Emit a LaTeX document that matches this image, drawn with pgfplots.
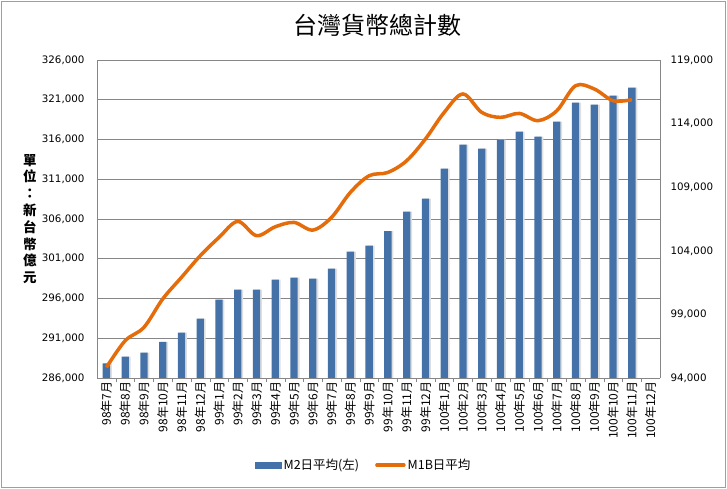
\documentclass[border=0pt]{standalone}
\usepackage{pgfplots}
\pgfplotsset{compat=1.18}
\usepackage{pgfplotstable}
\usepackage{fontspec}
\setmainfont{DejaVu Sans}
\newfontfamily\cjk{Noto Sans CJK TC}
\definecolor{barblue}{RGB}{68,114,168}
\definecolor{lineorange}{RGB}{228,108,10}
\definecolor{gridgray}{RGB}{134,134,134}

% M2 daily average (left axis), 100 million NTD
\pgfplotstableread{
x m2
1 287850
2 288680
3 289180
4 290530
5 291700
6 293460
7 295850
8 297110
9 297110
10 298370
11 298620
12 298490
13 299750
14 301890
15 302640
16 304490
17 306920
18 308550
19 312330
20 315350
21 314840
22 315980
23 316980
24 316350
25 318240
26 320630
27 320380
28 321510
29 322520
}\mtwo

% M1B daily average (right axis)
\pgfplotstableread{
x m1b
1 94830
2 96930
3 97980
4 100210
5 101910
6 103610
7 105050
8 106310
9 105190
10 105890
11 106230
12 105630
13 106630
14 108590
15 109900
16 110160
17 111080
18 112790
19 114880
20 116330
21 114880
22 114490
23 114800
24 114230
25 115010
26 116980
27 116720
28 115800
29 115880
}\mone

\begin{document}
\begin{tikzpicture}[x=1pt,y=1pt]
\useasboundingbox (0,0) rectangle (727,489);
\draw[gridgray!80] (1.5,1.5) rectangle (725.5,487.5);
\node[font=\cjk\fontsize{24}{28}\selectfont] at (377,464) {台灣貨幣總計數};

\begin{axis}[
  at={(97pt,111pt)}, anchor=south west,
  scale only axis, width=563pt, height=318pt,
  xmin=0.5, xmax=30.5, ymin=286000, ymax=326000,
  axis y line*=left, axis x line*=bottom,
  axis line style={gridgray, thick},
  ytick={286000,291000,296000,301000,306000,311000,316000,321000,326000},
  yticklabels={{286,000},{291,000},{296,000},{301,000},{306,000},{311,000},{316,000},{321,000},{326,000}},
  scaled y ticks=false,
  yticklabel style={font=\fontsize{10.3}{12}\selectfont, xshift=-9pt},
  ymajorgrids, major grid style={gridgray, thick},
  xtick={1,...,30},
  xticklabels={98年7月,98年8月,98年9月,98年10月,98年11月,98年12月,
    99年1月,99年2月,99年3月,99年4月,99年5月,99年6月,99年7月,99年8月,99年9月,99年10月,99年11月,99年12月,
    100年1月,100年2月,100年3月,100年4月,100年5月,100年6月,100年7月,100年8月,100年9月,100年10月,100年11月,100年12月},
  xticklabel style={rotate=90, anchor=east, font=\cjk\fontsize{12}{14}\selectfont},
  minor xtick={1.5,2.5,...,29.5},
  major tick length=0pt, minor tick length=4pt, tick align=inside,
  minor tick style={gridgray},
  ylabel={單\\位\\：\\新\\台\\幣\\億\\元},
  every axis y label/.style={at={(axis description cs:0,0.5)}, xshift=-67pt, anchor=center,
    align=center, font=\cjk\bfseries\fontsize{13.5}{16.8}\selectfont},
  ybar, bar width=7.3pt,
]
\addplot[fill=gray!25, draw=none, bar shift=1.8pt, forget plot] table[x=x,y=m2]{\mtwo};
\addplot[fill=barblue, draw=none, bar shift=0pt] table[x=x,y=m2]{\mtwo};
\end{axis}

\begin{axis}[
  at={(97pt,111pt)}, anchor=south west,
  scale only axis, width=563pt, height=318pt,
  xmin=0.5, xmax=30.5, ymin=94000, ymax=119000,
  axis y line*=right, axis x line=none,
  axis line style={gridgray, thick},
  ytick={94000,99000,104000,109000,114000,119000},
  yticklabels={{94,000},{99,000},{104,000},{109,000},{114,000},{119,000}},
  scaled y ticks=false,
  yticklabel style={font=\fontsize{10.3}{12}\selectfont, xshift=7pt},
  major tick length=0pt,
  legend style={at={(axis description cs:0.474,-0.274)}, anchor=center, draw=none,
    legend columns=2, font=\cjk\fontsize{12.5}{14}\selectfont,
    /tikz/every even column/.append style={column sep=14pt}},
]
\addlegendimage{legend image code/.code={\fill[barblue] (0pt,-3pt) rectangle (26pt,3pt);}}
\addlegendentry{M2日平均(左)}
\addplot[lineorange, line width=3.5pt, smooth, tension=0.55, mark=none,
  legend image code/.code={\draw[lineorange, line width=3.5pt, line cap=round] (1pt,0pt) -- (28pt,0pt);}]
  table[x=x,y=m1b]{\mone};
\addlegendentry{M1B日平均}
\end{axis}
\end{tikzpicture}
\end{document}
